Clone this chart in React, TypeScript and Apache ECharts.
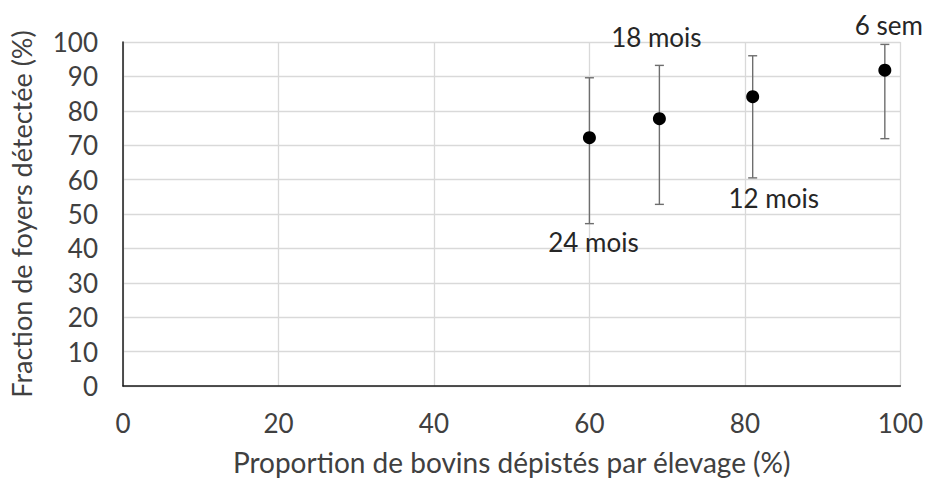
import React, { useEffect, useRef } from "react";
import * as echarts from "echarts";

const coverage = [60, 69, 81, 98];
const detected = [72.2, 77.7, 84.1, 91.8];
const lower = [47.2, 52.8, 60.5, 71.9];
const upper = [89.6, 93.2, 96.0, 99.3];
const pointLabels = ["24 mois", "18 mois", "12 mois", "6 sem"];

const xTicks = [0, 20, 40, 60, 80, 100];
const yTicks = [0, 10, 20, 30, 40, 50, 60, 70, 80, 90, 100];

const xTitle = "Proportion de bovins dépistés par élevage (%)";
const yTitle = "Fraction de foyers détectée (%)";

// label placement relative to each point (pixels)
const labelOffsets: [number, number][] = [
  [4, 104],
  [-3, -82],
  [21, 101],
  [4, -45],
];

const FONT = "Lato";

export default function App() {
  const ref = useRef<HTMLDivElement>(null);
  useEffect(() => {
    if (!ref.current) return;
    const chart = echarts.init(ref.current, undefined, { renderer: "svg" });
    const errData = coverage.map((x, i) => [x, lower[i], upper[i]]);
    const ptData = coverage.map((x, i) => ({
      value: [x, detected[i]],
      name: pointLabels[i],
      label: {
        show: true,
        position: "inside",
        offset: labelOffsets[i],
        formatter: pointLabels[i],
      },
    }));
    chart.setOption({
      animation: false,
      textStyle: { fontFamily: FONT },
      grid: { left: 112, right: 24, top: 42, bottom: 89, containLabel: false },
      xAxis: {
        type: "value",
        min: xTicks[0],
        max: xTicks[xTicks.length - 1],
        interval: 20,
        name: xTitle,
        nameLocation: "middle",
        nameGap: 62,
        nameTextStyle: { fontFamily: FONT, fontSize: 28, color: "#404040" },
        axisLine: { show: true, onZero: false, lineStyle: { color: "#1a1a1a", width: 1.5 } },
        axisTick: { show: false },
        axisLabel: { margin: 24, fontFamily: FONT, fontSize: 26, color: "#404040" },
        splitLine: { show: true, lineStyle: { color: "#d9d9d9", width: 1.3 } },
      },
      yAxis: {
        type: "value",
        min: yTicks[0],
        max: yTicks[yTicks.length - 1],
        interval: 10,
        name: yTitle,
        nameLocation: "middle",
        nameGap: 88,
        nameRotate: 90,
        nameTextStyle: { fontFamily: FONT, fontSize: 27, color: "#404040" },
        axisLine: { show: true, onZero: false, lineStyle: { color: "#1a1a1a", width: 1.5 } },
        axisTick: { show: false },
        axisLabel: { margin: 25, fontFamily: FONT, fontSize: 26, color: "#404040" },
        splitLine: { show: true, lineStyle: { color: "#d9d9d9", width: 1.3 } },
      },
      series: [
        {
          type: "custom",
          data: errData,
          z: 2,
          renderItem: (params: any, api: any) => {
            const x = api.value(0);
            const lo = api.value(1);
            const hi = api.value(2);
            const top = api.coord([x, hi]);
            const bot = api.coord([x, lo]);
            const hw = 4.5;
            const style = { stroke: "#6e6e6e", lineWidth: 1.4 };
            return {
              type: "group",
              children: [
                { type: "line", shape: { x1: top[0], y1: top[1], x2: bot[0], y2: bot[1] }, style },
                { type: "line", shape: { x1: top[0] - hw, y1: top[1], x2: top[0] + hw, y2: top[1] }, style },
                { type: "line", shape: { x1: bot[0] - hw, y1: bot[1], x2: bot[0] + hw, y2: bot[1] }, style },
              ],
            };
          },
        },
        {
          type: "scatter",
          data: ptData,
          z: 3,
          symbol: "circle",
          symbolSize: 13,
          itemStyle: { color: "#000000", opacity: 1 },
          label: { fontFamily: FONT, fontSize: 26, color: "#262626" },
        },
      ],
    });
    return () => chart.dispose();
  }, []);
  return (
    <div
      ref={ref}
      style={{ position: "fixed", left: 0, top: 0, width: 926, height: 481, background: "#ffffff" }}
    />
  );
}
